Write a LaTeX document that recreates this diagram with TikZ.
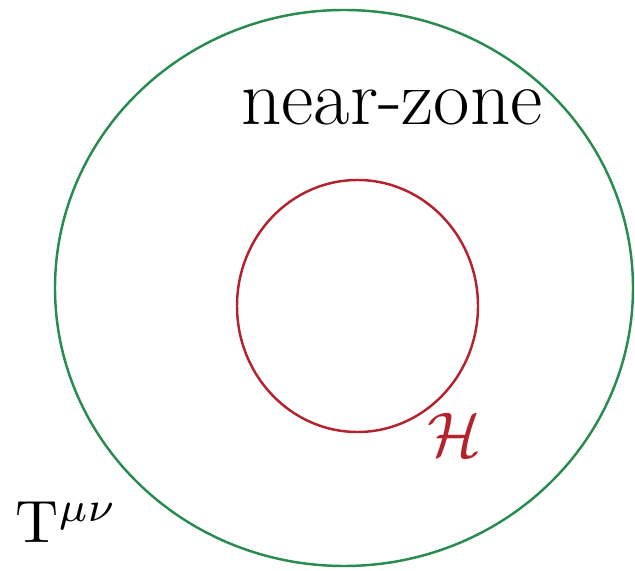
\documentclass[tikz,border=0pt]{standalone}
\usepackage{amsmath}
\definecolor{zonegreen}{RGB}{40,140,80}
\definecolor{horred}{RGB}{180,35,45}
\begin{document}
\begin{tikzpicture}
                [zone/.style={draw=zonegreen,line width=1.4pt},
                horizon/.style={draw=horred,line width=1.4pt},
                lbl/.style={inner sep=0pt},
                ]
                \useasboundingbox (0,0) rectangle (12.7,11.4);
                \draw[zone] (6.88,5.64) ellipse [x radius=5.78cm, y radius=5.56cm];
                \draw[horizon] (7.15,5.28) ellipse [x radius=2.41cm, y radius=2.52cm];
                \node[lbl] (nz) at (7.84,9.25) {\fontsize{45}{54}\selectfont near-zone};
                \node[lbl,text=horred] (hor) at (9.1,2.7) {\scalebox{3.6}{$\mathcal{H}$}};
                \node[lbl,anchor=west] (tmn) at (0.3,0.95) {\scalebox{3.4}{$\mathrm{T}^{\mu\nu}$}};
            \end{tikzpicture}
\end{document}
